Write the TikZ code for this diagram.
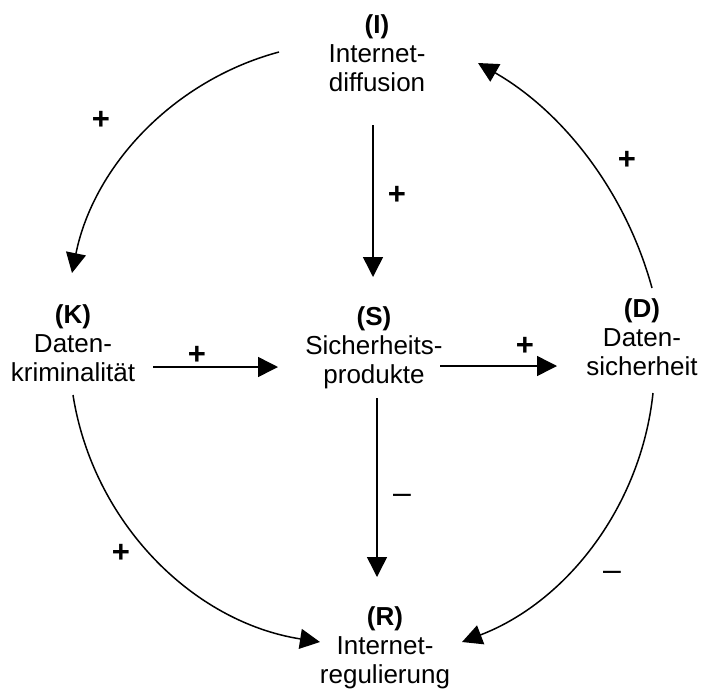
\documentclass[tikz,border=0pt]{standalone}
\usepackage{fontspec}
\setmainfont{Liberation Sans}
\usetikzlibrary{arrows.meta}

\tikzset{
  groesse/.style={align=center, inner sep=0pt, font=\fontsize{26}{29}\selectfont},
  pfeil/.style={line width=1.5pt, -{Triangle[length=20pt,width=20pt]}},
  plus/.style={inner sep=0pt, font=\fontsize{31}{31}\selectfont\bfseries},
  minus/.style={inner sep=0pt, font=\fontsize{32}{32}\selectfont},
}

\begin{document}
\begin{tikzpicture}[x=1pt,y=-1pt]
      \useasboundingbox (0,0) rectangle (703,688);
      % Groessen
      \node[groesse] (I) at (377,53.5) {\textbf{(I)}\\Internet-\\diffusion};
      \node[groesse] (K) at ( 73,343)  {\textbf{(K)}\\Daten-\\kriminalität};
      \node[groesse] (S) at (374,348)  {\textbf{(S)}\\Sicherheits-\\produkte};
      \node[groesse] (D) at (642,337)  {\textbf{(D)}\\Daten-\\sicherheit};
      \node[groesse] (R) at (385,648)  {\textbf{(R)}\\Internet-\\regulierung};

      % Gerade Pfeile
      \draw[pfeil] ([shift={(-4,71.5)}]I.center) -- ([shift={(-1,-71)}]S.center);
      \draw[pfeil] ([shift={(3,50)}]S.center)    -- ([shift={(-8,-71)}]R.center);
      \draw[pfeil] ([shift={(80,24)}]K.center)   -- ([shift={(-96,19)}]S.center);
      \draw[pfeil] ([shift={(66,18)}]S.center)   -- ([shift={(-85,29)}]D.center);

      % Boegen
      \draw[pfeil] ([shift={(-98,-1.5)}]I.center)
            .. controls +(-105.6,28.4) and +(21.7,-107.1) .. ([shift={(-1,-70)}]K.center);
      \draw[pfeil] ([shift={(10,-49)}]D.center)
            .. controls +(-26,-95.2) and +(85.7,49.1) .. ([shift={(101,9.5)}]I.center);
      \draw[pfeil] ([shift={(0,52)}]K.center)
            .. controls +(20,127.4) and +(-127.4,-20) .. ([shift={(-65,-6)}]R.center);
      \draw[pfeil] ([shift={(11,56)}]D.center)
            .. controls +(-11.8,112.3) and +(105.5,-40.5) .. ([shift={(77,-6)}]R.center);

      % Vorzeichen
      \node[plus] (pIK) at (101,120) {+};
      \node[plus] (pIS) at (397,195) {+};
      \node[plus] (pDI) at (627,160) {+};
      \node[plus] (pKS) at (197,355) {+};
      \node[plus] (pSD) at (525,346) {+};
      \node[plus] (pKR) at (121,553) {+};

      \node[minus] (mSR) at (402,498.5) {–};
      \node[minus] (mDR) at (612,575.5) {–};

\end{tikzpicture}
\end{document}
